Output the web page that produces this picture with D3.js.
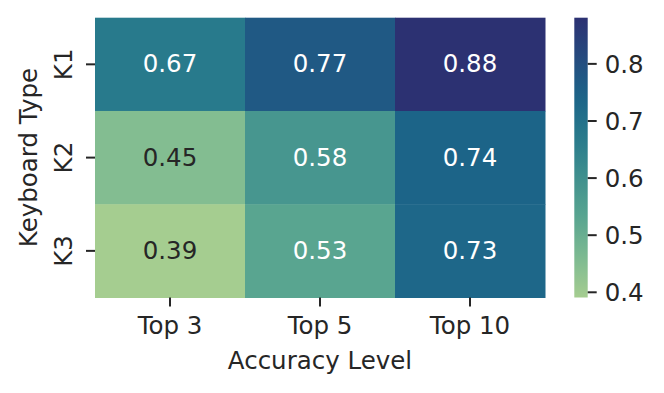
<!DOCTYPE html>
<html lang="en">
<head>
    <meta charset="UTF-8"/>
    <title>Heatmap</title>
    <style>
        body { margin: 0; background: #fff; }
        svg { display: block; }
        text { font-family: "DejaVu Sans", sans-serif; }
    </style>
</head>
<body>
<svg width="664" height="393"></svg>
<script src="https://d3js.org/d3.v7.min.js"></script>
<script>
    const columns = ["Top 3", "Top 5", "Top 10"];
    const rows = ["K1", "K2", "K3"];
    const values = [
        [0.67, 0.77, 0.88],
        [0.45, 0.58, 0.74],
        [0.39, 0.53, 0.73]
    ];
    const colorbarTicks = [0.4, 0.5, 0.6, 0.7, 0.8];

    // approximate seaborn "crest"
    const crestStops = ["#a5cd90", "#7dba91", "#59a590", "#40908e", "#287a8c", "#1c6488", "#254b7f", "#2c3172"];

    const fs = 24.5;
    const ink = "#262626";
    const svg = d3.select("svg");
    const plotLeft = 95, plotRight = 545, plotTop = 17.7, plotBottom = 297.5;

    const x = d3.scaleBand().domain(columns).range([plotLeft, plotRight]);
    const y = d3.scaleBand().domain(rows).range([plotTop, plotBottom]);

    const all = values.flat();
    const vmin = d3.min(all), vmax = d3.max(all);
    const interp = d3.piecewise(d3.interpolateRgb, crestStops);
    const color = v => interp((v - vmin) / (vmax - vmin));

    const cells = rows.flatMap((r, i) => columns.map((c, j) => ({row: r, col: c, v: values[i][j]})));

    function luminance(c) {
        const rgb = d3.rgb(c);
        const f = u => {
            u /= 255;
            return u <= 0.03928 ? u / 12.92 : Math.pow((u + 0.055) / 1.055, 2.4);
        };
        return 0.2126 * f(rgb.r) + 0.7152 * f(rgb.g) + 0.0722 * f(rgb.b);
    }

    svg.append("g")
        .selectAll("rect")
        .data(cells)
        .join("rect")
        .attr("x", d => x(d.col))
        .attr("y", d => y(d.row))
        .attr("width", x.bandwidth() + 0.5)
        .attr("height", y.bandwidth() + 0.5)
        .attr("fill", d => color(d.v));

    svg.append("g")
        .selectAll("text")
        .data(cells)
        .join("text")
        .attr("x", d => x(d.col) + x.bandwidth() / 2)
        .attr("y", d => y(d.row) + y.bandwidth() / 2 + 8)
        .attr("text-anchor", "middle")
        .attr("font-size", fs)
        .attr("fill", d => luminance(color(d.v)) < 0.408 ? "#ffffff" : ink)
        .text(d => d.v.toFixed(2));

    // x axis
    const xAxis = svg.append("g")
        .attr("transform", `translate(0,${plotBottom})`)
        .call(d3.axisBottom(x).tickSize(9).tickPadding(6));
    xAxis.select(".domain").remove();
    xAxis.selectAll("line").attr("stroke", ink).attr("stroke-width", 2);
    xAxis.selectAll("text")
        .attr("font-size", fs).attr("fill", ink).attr("font-family", "DejaVu Sans")
        .attr("y", 0).attr("dy", 0)
        .attr("transform", "translate(0,36)");

    // y axis
    const yAxis = svg.append("g")
        .attr("transform", `translate(${plotLeft},0)`)
        .call(d3.axisLeft(y).tickSize(9).tickPadding(6));
    yAxis.select(".domain").remove();
    yAxis.selectAll("line").attr("stroke", ink).attr("stroke-width", 2);
    yAxis.selectAll("text")
        .attr("font-size", fs).attr("fill", ink).attr("font-family", "DejaVu Sans")
        .attr("x", 0).attr("dy", 0)
        .attr("text-anchor", "middle")
        .attr("transform", "translate(-23,0) rotate(-90)");

    svg.append("text")
        .attr("x", (plotLeft + plotRight) / 2)
        .attr("y", 369.3)
        .attr("text-anchor", "middle")
        .attr("font-size", fs)
        .attr("fill", ink)
        .text("Accuracy Level");

    svg.append("text")
        .attr("transform", `translate(36.7,${(plotTop + plotBottom) / 2}) rotate(-90)`)
        .attr("text-anchor", "middle")
        .attr("font-size", fs)
        .attr("fill", ink)
        .text("Keyboard Type");

    // colorbar
    const cbLeft = 574.3, cbWidth = 13.4;
    const cbScale = d3.scaleLinear().domain([vmin, vmax]).range([plotBottom, plotTop]);
    const defs = svg.append("defs");
    const grad = defs.append("linearGradient")
        .attr("id", "cb").attr("x1", 0).attr("y1", 1).attr("x2", 0).attr("y2", 0);
    grad.selectAll("stop")
        .data(d3.range(0, 1.0001, 0.05))
        .join("stop")
        .attr("offset", d => d)
        .attr("stop-color", d => interp(d));
    svg.append("rect")
        .attr("x", cbLeft).attr("y", plotTop)
        .attr("width", cbWidth).attr("height", plotBottom - plotTop)
        .attr("fill", "url(#cb)");

    const cbAxis = svg.append("g")
        .attr("transform", `translate(${cbLeft + cbWidth},0)`)
        .call(d3.axisRight(cbScale).tickValues(colorbarTicks).tickFormat(d3.format(".1f")).tickSize(9).tickPadding(8));
    cbAxis.select(".domain").remove();
    cbAxis.selectAll("line").attr("stroke", ink).attr("stroke-width", 2);
    cbAxis.selectAll("text")
        .attr("font-size", fs).attr("fill", ink).attr("font-family", "DejaVu Sans")
        .attr("dy", "0.36em");
</script>
</body>
</html>
